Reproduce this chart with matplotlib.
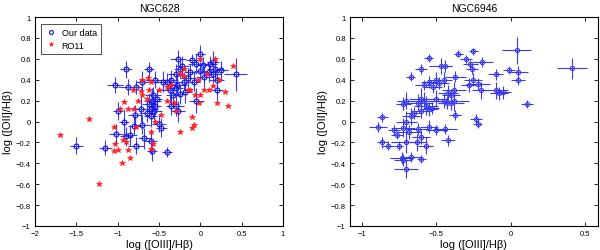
import matplotlib
matplotlib.use("Agg")
import matplotlib.pyplot as plt
import numpy as np

plt.rcParams['font.family'] = ['Liberation Sans', 'DejaVu Sans']

# ---- NGC628: our data ----
n628_x = [-1.50, -1.15, -1.03, -1.00, -1.02, -0.90, -0.92, -0.90, -0.87, -0.85,
          -0.78, -0.79, -0.80, -0.78, -0.70, -0.72, -0.70, -0.68, -0.62, -0.60,
          -0.58, -0.55, -0.58, -0.55, -0.60, -0.57, -0.53, -0.60, -0.50, -0.47,
          -0.40, -0.45, -0.40, -0.35, -0.37, -0.30, -0.33, -0.35, -0.30, -0.27,
          -0.25, -0.27, -0.22, -0.25, -0.28, -0.30, -0.10, -0.15, -0.12, -0.05,
          0.00, -0.05, 0.00, 0.03, 0.05, 0.10, 0.12, 0.15, 0.18, 0.20,
          0.20, 0.25, 0.43, 0.15, -0.08, -0.20, -0.18, -0.62, -0.56, -0.65]
n628_y = [-0.23, -0.25, 0.35, 0.10, -0.12, 0.50, 0.00, -0.14, 0.33, -0.13,
          0.33, 0.06, -0.04, -0.23, 0.38, 0.12, -0.03, -0.16, 0.50, -0.19,
          -0.28, 0.40, 0.20, 0.15, 0.12, 0.25, 0.22, 0.05, -0.02, -0.06,
          -0.29, 0.38, 0.38, 0.40, 0.30, 0.45, 0.25, 0.15, 0.15, 0.10,
          0.26, 0.60, 0.53, 0.50, 0.35, 0.32, 0.59, 0.42, 0.47, 0.20,
          0.65, 0.55, 0.48, 0.54, 0.43, 0.47, 0.55, 0.57, 0.50, 0.40,
          0.30, 0.49, 0.45, 0.45, 0.38, 0.38, 0.28, 0.17, 0.10, 0.08]
n628_xerr = [0.08, 0.08, 0.10, 0.06, 0.08, 0.07, 0.06, 0.07, 0.12, 0.08,
             0.07, 0.09, 0.08, 0.10, 0.08, 0.12, 0.09, 0.08, 0.06, 0.07,
             0.06, 0.12, 0.10, 0.08, 0.09, 0.10, 0.07, 0.08, 0.08, 0.07,
             0.06, 0.10, 0.12, 0.08, 0.10, 0.09, 0.08, 0.07, 0.10, 0.08,
             0.08, 0.10, 0.08, 0.07, 0.12, 0.09, 0.07, 0.10, 0.08, 0.09,
             0.06, 0.10, 0.08, 0.07, 0.10, 0.12, 0.08, 0.07, 0.10, 0.09,
             0.07, 0.08, 0.14, 0.10, 0.08, 0.12, 0.08, 0.08, 0.10, 0.09]
n628_yerr = [0.08, 0.07, 0.08, 0.09, 0.10, 0.08, 0.12, 0.09, 0.08, 0.10,
             0.07, 0.10, 0.09, 0.08, 0.10, 0.12, 0.09, 0.10, 0.07, 0.12,
             0.10, 0.08, 0.12, 0.09, 0.10, 0.08, 0.09, 0.10, 0.08, 0.09,
             0.05, 0.10, 0.08, 0.09, 0.12, 0.10, 0.08, 0.09, 0.10, 0.10,
             0.09, 0.08, 0.10, 0.08, 0.10, 0.09, 0.06, 0.09, 0.08, 0.12,
             0.08, 0.10, 0.09, 0.08, 0.10, 0.09, 0.08, 0.10, 0.09, 0.12,
             0.10, 0.09, 0.16, 0.08, 0.09, 0.08, 0.10, 0.10, 0.09, 0.08]

# ---- NGC628: RO11 ----
ro11_x = [-1.70, -1.35, -1.23, -1.05, -1.03, -1.05, -1.00, -0.95, -0.93, -0.90,
          -0.87, -0.85, -0.97, -0.92, -0.88, -0.80, -0.75, -0.72, -0.70, -0.63,
          -0.60, -0.62, -0.65, -0.50, -0.47, -0.55, -0.60, -0.57, -0.60, -0.40,
          -0.35, -0.25, -0.32, -0.30, -0.20, -0.15, -0.10, -0.08, -0.10, -0.12,
          -0.07, -0.03, 0.00, 0.00, 0.05, 0.10, 0.15, 0.20, 0.18, 0.22,
          0.30, 0.33, 0.40, -0.02, -0.20, -0.25, 0.08, -0.40, -0.70, -0.78, -0.82]
ro11_y = [-0.13, 0.02, -0.60, -0.05, -0.22, -0.28, -0.27, -0.40, -0.18, -0.20,
          -0.27, -0.35, 0.12, 0.19, 0.12, 0.12, 0.20, 0.29, 0.25, 0.42,
          0.38, 0.30, 0.22, 0.30, 0.06, 0.00, -0.10, -0.22, -0.26, 0.33,
          0.35, -0.10, 0.18, 0.10, 0.44, 0.30, -0.06, -0.03, 0.04, 0.30,
          0.25, 0.40, 0.25, 0.60, 0.30, 0.30, 0.34, 0.18, 0.60, 0.40,
          0.28, 0.15, 0.53, 0.18, 0.50, 0.45, 0.45, 0.20, 0.40, -0.05, 0.30]

# ---- NGC6946 ----
n6946_x = [0.41, 0.11, 0.04, 0.05, 0.05, -0.01, -0.10, -0.10, -0.08, -0.05,
           -0.19, -0.20, -0.22, -0.23, -0.22, -0.25, -0.27, -0.26, -0.30, -0.35,
           -0.25, -0.28, -0.37, -0.38, -0.38, -0.40, -0.37, -0.40, -0.42, -0.44,
           -0.45, -0.47, -0.48, -0.50, -0.52, -0.50, -0.45, -0.43, -0.44, -0.42,
           -0.55, -0.55, -0.58, -0.60, -0.58, -0.57, -0.55, -0.53, -0.60, -0.62,
           -0.60, -0.55, -0.50, -0.57, -0.60, -0.62, -0.60, -0.63, -0.67, -0.65,
           -0.67, -0.68, -0.70, -0.72, -0.70, -0.72, -0.70, -0.72, -0.70, -0.67,
           -0.73, -0.75, -0.78, -0.76, -0.82, -0.86, -0.86, -0.89]
n6946_y = [0.51, 0.17, 0.68, 0.47, 0.40, 0.49, 0.45, 0.30, 0.27, 0.28,
           0.57, 0.30, 0.36, 0.02, -0.02, 0.67, 0.55, 0.50, 0.60, 0.65,
           0.40, 0.35, 0.43, 0.30, 0.20, 0.25, 0.06, 0.18, 0.27, 0.53,
           0.40, 0.53, 0.37, 0.40, 0.33, 0.22, 0.20, 0.18, -0.07, -0.18,
           0.61, 0.38, 0.35, 0.50, 0.20, 0.15, 0.12, 0.13, 0.22, 0.18,
           0.10, -0.05, -0.08, -0.23, -0.15, -0.07, -0.36, -0.20, 0.43, 0.08,
           0.05, -0.10, 0.20, 0.17, 0.00, -0.06, -0.20, -0.37, -0.45, -0.34,
           -0.35, -0.23, -0.08, -0.13, -0.23, -0.20, 0.04, -0.05]
n6946_xerr = [0.10, 0.04, 0.10, 0.07, 0.05, 0.04, 0.05, 0.08, 0.06, 0.05,
              0.07, 0.06, 0.08, 0.04, 0.03, 0.03, 0.05, 0.04, 0.04, 0.03,
              0.06, 0.05, 0.07, 0.08, 0.10, 0.06, 0.04, 0.09, 0.07, 0.05,
              0.06, 0.08, 0.07, 0.05, 0.06, 0.07, 0.05, 0.06, 0.08, 0.05,
              0.03, 0.05, 0.06, 0.04, 0.12, 0.08, 0.06, 0.05, 0.08, 0.10,
              0.07, 0.06, 0.07, 0.05, 0.06, 0.08, 0.03, 0.07, 0.03, 0.05,
              0.06, 0.08, 0.06, 0.05, 0.07, 0.08, 0.10, 0.06, 0.08, 0.07,
              0.08, 0.03, 0.04, 0.04, 0.04, 0.04, 0.04, 0.06]
n6946_yerr = [0.10, 0.04, 0.13, 0.06, 0.05, 0.04, 0.05, 0.08, 0.06, 0.06,
              0.05, 0.08, 0.06, 0.05, 0.04, 0.03, 0.04, 0.05, 0.04, 0.03,
              0.06, 0.07, 0.05, 0.08, 0.10, 0.06, 0.05, 0.07, 0.08, 0.06,
              0.07, 0.08, 0.06, 0.07, 0.06, 0.08, 0.07, 0.06, 0.05, 0.05,
              0.04, 0.06, 0.05, 0.05, 0.08, 0.09, 0.07, 0.06, 0.10, 0.08,
              0.07, 0.06, 0.05, 0.08, 0.07, 0.06, 0.04, 0.08, 0.04, 0.06,
              0.08, 0.07, 0.08, 0.06, 0.10, 0.09, 0.10, 0.06, 0.09, 0.05,
              0.06, 0.04, 0.05, 0.04, 0.04, 0.05, 0.04, 0.05]

fig = plt.figure(figsize=(6.0, 2.51), dpi=100)
axL = fig.add_axes([35/600, 24/251, 248/600, 209/251])
axR = fig.add_axes([350/600, 24/251, 248/600, 209/251])

blue = '#1010e0'
ebcol = '#3a3aee'

def style(ax):
    ax.tick_params(direction='in', top=True, right=True, labelsize=5.5,
                   length=3, width=0.6, pad=3)
    for s in ax.spines.values():
        s.set_linewidth(0.8)
    ax.set_ylim(-1, 1)
    ax.set_yticks(np.arange(-1, 1.01, 0.2))
    ax.set_yticklabels(['\u22121', '\u22120.8', '\u22120.6', '\u22120.4', '\u22120.2',
                        '0', '0.2', '0.4', '0.6', '0.8', '1'])
    ax.set_xlabel('log ([OIII]/H\u03b2)', fontsize=8, labelpad=1)
    ax.set_ylabel('log ([OII]/H\u03b2)', fontsize=8, labelpad=2)

# Left panel
axL.errorbar(n628_x, n628_y, xerr=n628_xerr, yerr=n628_yerr, fmt='none',
             ecolor=ebcol, elinewidth=0.8, zorder=2)
axL.plot(n628_x, n628_y, 'o', mfc='none', mec=blue, ms=3.5, mew=0.8,
         zorder=3, label='Our data')
axL.plot(ro11_x, ro11_y, '*', color='#ff2020', ms=3.8, mew=0.5,
         zorder=4, label='RO11')
axL.set_xlim(-2, 1)
axL.set_xticks([-2, -1.5, -1, -0.5, 0, 0.5, 1])
axL.set_xticklabels(['\u22122', '\u22121.5', '\u22121', '\u22120.5', '0', '0.5', '1'])
style(axL)
axL.set_title('NGC628', fontsize=7.5, pad=4)
leg = axL.legend(loc='upper left', fontsize=6.5, frameon=True, fancybox=False,
                 edgecolor='black', borderpad=0.45, handlelength=1.3,
                 handletextpad=0.5, labelspacing=0.35, markerscale=0.8,
                 bbox_to_anchor=(0.025, 0.965), borderaxespad=0)
leg.get_frame().set_linewidth(0.6)

# Right panel
axR.errorbar(n6946_x, n6946_y, xerr=n6946_xerr, yerr=n6946_yerr, fmt='o',
             mfc='none', mec=ebcol, ms=3, mew=0.8, ecolor=ebcol,
             elinewidth=0.8, color=ebcol, zorder=3)
axR.set_xlim(-1.078, 0.587)
axR.set_xticks([-1, -0.5, 0, 0.5])
axR.set_xticklabels(['\u22121', '\u22120.5', '0', '0.5'])
style(axR)
axR.set_title('NGC6946', fontsize=7.5, pad=4)

fig.savefig('out.png', dpi=100)
